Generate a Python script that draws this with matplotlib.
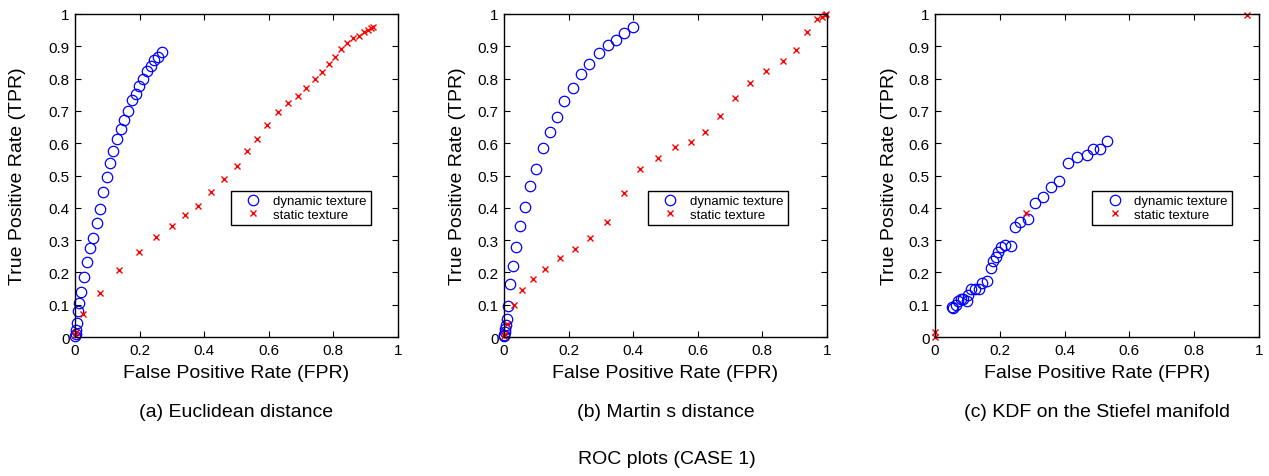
import matplotlib
matplotlib.use("Agg")
import matplotlib.pyplot as plt
import numpy as np

plt.rcParams['font.family'] = ['Liberation Sans', 'DejaVu Sans']

# ---- data ----
a_dyn_fpr = [0, 0.002, 0.003, 0.005, 0.008, 0.013, 0.019, 0.028, 0.036, 0.045, 0.057, 0.067, 0.077, 0.086,
             0.098, 0.108, 0.119, 0.131, 0.141, 0.152, 0.165, 0.175, 0.188, 0.198, 0.209, 0.222, 0.234,
             0.245, 0.256, 0.268]
a_dyn_tpr = [0.002, 0.010, 0.023, 0.044, 0.080, 0.104, 0.139, 0.186, 0.232, 0.275, 0.306, 0.352, 0.397, 0.448,
             0.495, 0.538, 0.577, 0.613, 0.643, 0.672, 0.701, 0.734, 0.753, 0.776, 0.799, 0.823, 0.840,
             0.859, 0.866, 0.881]
a_sta_fpr = [0, 0.003, 0.026, 0.077, 0.137, 0.199, 0.251, 0.299, 0.340, 0.381, 0.420, 0.462, 0.500, 0.531,
             0.562, 0.595, 0.627, 0.660, 0.689, 0.716, 0.742, 0.766, 0.785, 0.804, 0.825, 0.843, 0.861,
             0.878, 0.894, 0.907, 0.915, 0.923]
a_sta_tpr = [0.005, 0.015, 0.070, 0.137, 0.206, 0.263, 0.310, 0.345, 0.378, 0.407, 0.448, 0.489, 0.528, 0.576,
             0.613, 0.657, 0.697, 0.725, 0.747, 0.771, 0.798, 0.820, 0.844, 0.866, 0.892, 0.911, 0.925,
             0.933, 0.943, 0.951, 0.956, 0.959]

b_dyn_fpr = [0, 0.001, 0.003, 0.004, 0.006, 0.008, 0.012, 0.020, 0.028, 0.036, 0.049, 0.064, 0.082, 0.100,
             0.121, 0.143, 0.164, 0.187, 0.213, 0.237, 0.264, 0.293, 0.321, 0.346, 0.373, 0.399]
b_dyn_tpr = [0.002, 0.007, 0.015, 0.026, 0.036, 0.055, 0.096, 0.165, 0.220, 0.278, 0.344, 0.401, 0.467, 0.519,
             0.584, 0.635, 0.682, 0.731, 0.772, 0.815, 0.846, 0.878, 0.904, 0.920, 0.941, 0.959]
b_sta_fpr = [0, 0.002, 0.009, 0.031, 0.057, 0.090, 0.128, 0.172, 0.221, 0.267, 0.320, 0.372, 0.422, 0.477,
             0.530, 0.578, 0.623, 0.670, 0.714, 0.761, 0.810, 0.864, 0.903, 0.939, 0.969, 0.985, 0.993, 0.998]
b_sta_tpr = [0.003, 0.010, 0.041, 0.098, 0.144, 0.179, 0.212, 0.244, 0.273, 0.307, 0.356, 0.447, 0.519, 0.553,
             0.589, 0.603, 0.634, 0.685, 0.741, 0.785, 0.825, 0.856, 0.890, 0.945, 0.983, 0.992, 0.997, 0.999]

c_dyn_fpr = [0.051, 0.057, 0.064, 0.072, 0.079, 0.087, 0.098, 0.103, 0.110, 0.123, 0.137, 0.146, 0.159, 0.173,
             0.180, 0.188, 0.195, 0.203, 0.216, 0.234, 0.247, 0.262, 0.288, 0.310, 0.334, 0.358, 0.384,
             0.412, 0.439, 0.468, 0.489, 0.509, 0.532]
c_dyn_tpr = [0.092, 0.090, 0.098, 0.113, 0.118, 0.117, 0.113, 0.131, 0.149, 0.149, 0.149, 0.167, 0.174, 0.215,
             0.234, 0.249, 0.264, 0.280, 0.285, 0.283, 0.341, 0.357, 0.365, 0.416, 0.432, 0.465, 0.483,
             0.539, 0.557, 0.565, 0.582, 0.581, 0.606]
c_sta_fpr = [0, 0, 0.281, 0.962]
c_sta_tpr = [0, 0.017, 0.385, 0.998]

captions = ["(a) Euclidean distance", "(b) Martin s distance", "(c) KDF on the Stiefel manifold"]
series_labels = ["dynamic texture", "static texture"]
xticks = [0, 0.2, 0.4, 0.6, 0.8, 1]
xticklabels = ["0", "0.2", "0.4", "0.6", "0.8", "1"]
yticks = [0, 0.1, 0.2, 0.3, 0.4, 0.5, 0.6, 0.7, 0.8, 0.9, 1]
yticklabels = ["0", "0.1", "0.2", "0.3", "0.4", "0.5", "0.6", "0.7", "0.8", "0.9", "1"]
title = "ROC plots (CASE 1)"
xlabel = "False Positive Rate (FPR)"
ylabel = "True Positive Rate (TPR)"

panels = [
    (a_dyn_fpr, a_dyn_tpr, a_sta_fpr, a_sta_tpr),
    (b_dyn_fpr, b_dyn_tpr, b_sta_fpr, b_sta_tpr),
    (c_dyn_fpr, c_dyn_tpr, c_sta_fpr, c_sta_tpr),
]

W, H = 1269, 477
fig = plt.figure(figsize=(W / 100, H / 100), dpi=100)

# pixel boxes (left, right) for each axes; top 15, bottom 338
boxes = [(75, 398), (504, 827), (935, 1259)]
legend_x = [0.483, 0.446, 0.485]
ylabel_x = [18, 457, 890]
top_px, bot_px = 15, 338

for i, ((dx, dy, sx, sy), (l, r)) in enumerate(zip(panels, boxes)):
    ax = fig.add_axes([l / W, 1 - bot_px / H, (r - l) / W, (bot_px - top_px) / H])
    ax.plot(dx, dy, linestyle='none', marker='o', markersize=7.5, markerfacecolor='none',
            markeredgecolor='#0000ff', markeredgewidth=0.9, label=series_labels[0], clip_on=False)
    ax.plot(sx, sy, linestyle='none', marker='x', markersize=5, color='#ff0000',
            markeredgewidth=1.0, label=series_labels[1], clip_on=False)
    ax.set_xlim(0, 1)
    ax.set_ylim(0, 1)
    ax.set_xticks(xticks)
    ax.set_xticklabels(xticklabels)
    ax.set_yticks(yticks)
    ax.set_yticklabels(yticklabels)
    ax.tick_params(direction='in', top=True, right=True, length=4, width=0.8,
                   labelsize=11, pad=4)
    for s in ax.spines.values():
        s.set_linewidth(1.0)
    leg = ax.legend(loc='upper left', bbox_to_anchor=(legend_x[i], 0.452), fontsize=9.5,
                    frameon=True, fancybox=False, edgecolor='black', framealpha=1,
                    borderpad=0.3, labelspacing=0.1, handlelength=2.8, handletextpad=0.1,
                    borderaxespad=0)
    leg.get_frame().set_linewidth(1.0)
    cx = (l + r) / 2 / W
    fig.text(cx, 1 - 374 / H, xlabel, ha='center', va='center', fontsize=14)
    fig.text(cx, 1 - 413 / H, captions[i], ha='center', va='center', fontsize=14)
    fig.text(ylabel_x[i] / W, 1 - ((top_px + bot_px) / 2) / H, ylabel, ha='center', va='center',
             rotation=90, fontsize=14)

fig.text(667 / W, 1 - 460 / H, title, ha='center', va='center', fontsize=14)

fig.savefig('out.png', dpi=100)
